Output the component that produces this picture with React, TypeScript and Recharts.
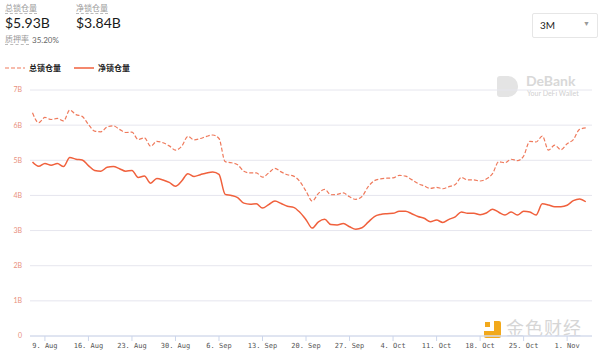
import React from 'react';
import { CartesianGrid, Line, LineChart, XAxis, YAxis } from 'recharts';

// days counted from 9 Aug (day 0); first point is day -2
const START_DAY = -2;

const totalLocked = [
  6.35, 6.07, 6.22, 6.16, 6.19, 6.12, 6.43, 6.3, 6.25, 6.02, 5.83, 5.81, 5.95, 5.98, 5.88, 5.79,
  5.8, 5.59, 5.64, 5.4, 5.54, 5.5, 5.41, 5.29, 5.4, 5.68, 5.58, 5.62, 5.68, 5.72, 5.62, 4.96,
  4.93, 4.87, 4.69, 4.64, 4.64, 4.52, 4.64, 4.77, 4.67, 4.59, 4.55, 4.4, 4.12, 3.84, 4.06, 4.17,
  4.02, 4.03, 4.07, 3.96, 3.89, 3.97, 4.25, 4.42, 4.47, 4.49, 4.5, 4.57, 4.55, 4.45, 4.34, 4.27,
  4.2, 4.23, 4.19, 4.25, 4.31, 4.51, 4.44, 4.44, 4.41, 4.47, 4.62, 4.96, 4.93, 5.03, 4.99, 5.12,
  5.54, 5.52, 5.69, 5.29, 5.43, 5.3, 5.47, 5.59, 5.88, 5.92,
];

const netLocked = [
  4.95, 4.83, 4.91, 4.86, 4.91, 4.82, 5.08, 5.03, 5.01, 4.85, 4.71, 4.69, 4.8, 4.82, 4.76, 4.69,
  4.71, 4.51, 4.55, 4.35, 4.48, 4.44, 4.37, 4.26, 4.41, 4.62, 4.54, 4.59, 4.64, 4.67, 4.6, 4.03,
  4.0, 3.94, 3.78, 3.75, 3.76, 3.64, 3.74, 3.84, 3.77, 3.69, 3.66, 3.52, 3.31, 3.07, 3.25, 3.32,
  3.17, 3.16, 3.2, 3.11, 3.04, 3.08, 3.24, 3.4, 3.46, 3.48, 3.49, 3.55, 3.55, 3.48, 3.4, 3.35,
  3.25, 3.3, 3.23, 3.32, 3.39, 3.53, 3.49, 3.49, 3.45, 3.5, 3.61, 3.52, 3.44, 3.53, 3.44, 3.55,
  3.53, 3.44, 3.76, 3.73, 3.68, 3.68, 3.72, 3.85, 3.9, 3.82,
];

const tickDays = [0, 7, 14, 21, 28, 35, 42, 49, 56, 63, 70, 77, 84];
const tickLabels = [
  '9. Aug', '16. Aug', '23. Aug', '30. Aug', '6. Sep', '13. Sep', '20. Sep',
  '27. Sep', '4. Oct', '11. Oct', '18. Oct', '25. Oct', '1. Nov',
];
const yTicks = [0, 1, 2, 3, 4, 5, 6, 7];

const data = totalLocked.map((t, i) => ({ day: START_DAY + i, total: t, net: netLocked[i] }));

const DASH = '#ef7a5c';
const SOLID = '#f0603c';
const CJK = '"Noto Sans CJK SC", "Noto Sans", sans-serif';

export default function App() {
  return (
    <div
      style={{
        position: 'absolute',
        left: 0,
        top: 0,
        width: 600,
        height: 357,
        background: '#fff',
        overflow: 'hidden',
        fontFamily: CJK,
      }}
    >
      {/* header stats */}
      <div style={{ position: 'absolute', left: 5, top: 3, fontSize: 8, color: '#999', borderBottom: '1px dashed #bbb', lineHeight: '10px' }}>总锁仓量</div>
      <div style={{ position: 'absolute', left: 5, top: 14, fontSize: 14, color: '#1a1a1a', fontFamily: 'Lato, sans-serif' }}>$5.93B</div>
      <div style={{ position: 'absolute', left: 76, top: 3, fontSize: 8, color: '#999', borderBottom: '1px dashed #bbb', lineHeight: '10px' }}>净锁仓量</div>
      <div style={{ position: 'absolute', left: 76, top: 14, fontSize: 14, color: '#1a1a1a', fontFamily: 'Lato, sans-serif' }}>$3.84B</div>
      <div style={{ position: 'absolute', left: 5, top: 34, fontSize: 8, color: '#999', borderBottom: '1px dashed #bbb', lineHeight: '10px' }}>质押率</div>
      <div style={{ position: 'absolute', left: 32, top: 35, fontSize: 8, color: '#666', fontFamily: 'Lato, sans-serif' }}>35.20%</div>

      {/* range selector */}
      <div
        style={{
          position: 'absolute',
          left: 532,
          top: 13,
          width: 64,
          height: 23,
          border: '1px solid #e6e6e6',
          borderRadius: 2,
          fontSize: 10,
          color: '#222',
          fontFamily: 'Lato, sans-serif',
        }}
      >
        <span style={{ position: 'absolute', left: 7, top: 5 }}>3M</span>
        <span style={{ position: 'absolute', right: 7, top: 5, fontSize: 7, color: '#999' }}>▼</span>
      </div>

      {/* legend */}
      <svg style={{ position: 'absolute', left: 0, top: 60 }} width={140} height={16}>
        <line x1={5} x2={25} y1={8} y2={8} stroke={DASH} strokeWidth={1.2} strokeDasharray="4 2" />
        <text x={29} y={11} fontSize={8} fontWeight={700} fill="#222" fontFamily={CJK}>总锁仓量</text>
        <line x1={74} x2={94} y1={8} y2={8} stroke={SOLID} strokeWidth={1.5} />
        <text x={98} y={11} fontSize={8} fontWeight={700} fill="#222" fontFamily={CJK}>净锁仓量</text>
      </svg>

      {/* DeBank watermark */}
      <div style={{ position: 'absolute', left: 497, top: 76, width: 21, height: 21, background: '#e4e4e4', borderRadius: '3px 10px 10px 3px' }} />
      <div style={{ position: 'absolute', left: 526, top: 72, fontSize: 14, fontWeight: 700, color: '#d8d8d8', fontFamily: 'Lato, sans-serif' }}>DeBank</div>
      <div style={{ position: 'absolute', left: 527, top: 89, fontSize: 7, color: '#cfcfcf', fontFamily: 'Lato, sans-serif' }}>Your DeFi Wallet</div>

      {/* 金色财经 watermark (sits behind the chart) */}
      <div style={{ position: 'absolute', left: 484, top: 321, width: 17, height: 17, background: '#f2a91c', borderRadius: 2 }} />
      <div style={{ position: 'absolute', left: 484, top: 321, width: 10, height: 10, background: '#fff' }} />
      <div style={{ position: 'absolute', left: 485, top: 322, width: 5, height: 5, background: '#f2a91c' }} />
      <div style={{ position: 'absolute', left: 506, top: 315, fontSize: 18, lineHeight: '24px', color: '#d6d6d6', fontFamily: CJK, letterSpacing: 1 }}>金色财经</div>

      <div style={{ position: 'absolute', left: 0, top: 0 }}>
        <LineChart width={600} height={357} data={data} margin={{ top: 90, right: 8, bottom: 0, left: 0 }}>
          <CartesianGrid vertical={false} stroke="#e6e6ee" />
          <XAxis
            dataKey="day"
            type="number"
            domain={[-2.4, 88]}
            ticks={tickDays}
            tickFormatter={(d: number) => tickLabels[tickDays.indexOf(d)] ?? ''}
            height={21}
            stroke="#ccd6eb"
            tickSize={5}
            tickMargin={2}
            tick={{ fontSize: 7, fill: '#555', fontFamily: '"DejaVu Sans Mono", monospace' }}
          />
          <YAxis
            type="number"
            domain={[0, 7]}
            ticks={yTicks}
            width={30}
            axisLine={false}
            tickLine={false}
            tickFormatter={(v: number) => (v === 0 ? '0' : `${v}B`)}
            tick={{ fontSize: 7, fill: '#e8907e', fontFamily: 'Lato, sans-serif' }}
          />
          <Line
            type="monotone"
            dataKey="total"
            stroke={DASH}
            strokeWidth={1.2}
            strokeDasharray="4 2"
            dot={false}
            isAnimationActive={false}
          />
          <Line
            type="monotone"
            dataKey="net"
            stroke={SOLID}
            strokeWidth={1.5}
            dot={false}
            isAnimationActive={false}
          />
        </LineChart>
      </div>
    </div>
  );
}
